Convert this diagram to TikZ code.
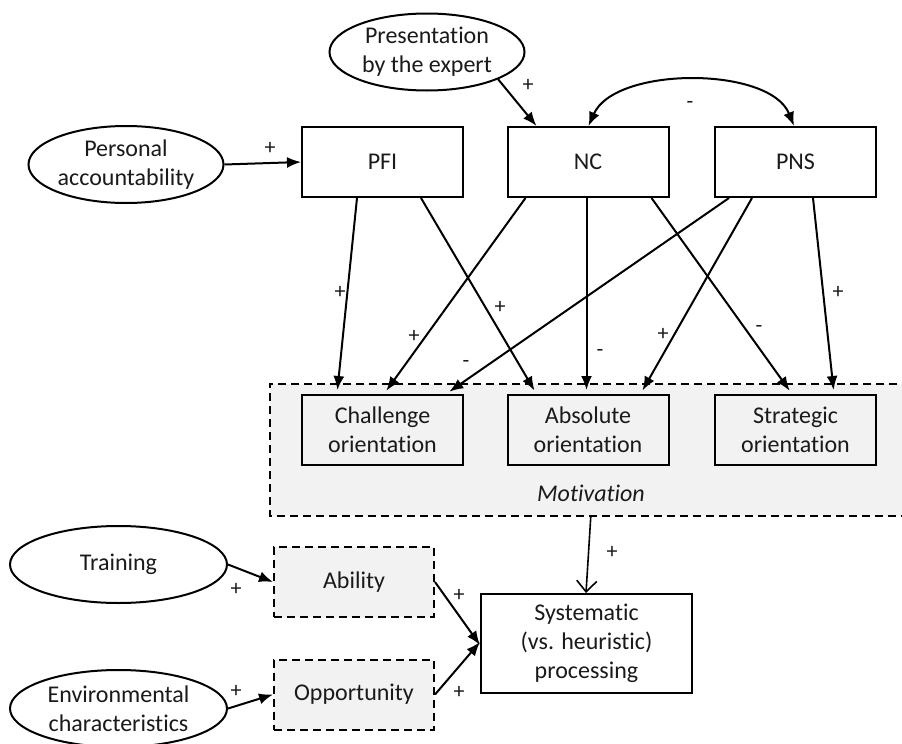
\documentclass[tikz,border=0pt]{standalone}
\usepackage{fontspec}
\setmainfont{Carlito}[Ligatures=NoCommon]
\usetikzlibrary{shapes.geometric,arrows.meta}
\definecolor{mgray}{HTML}{F2F2F2}
\definecolor{ink}{HTML}{1A1A1A}
\begin{document}
\begin{tikzpicture}[x=1pt,y=-1pt,
  every node/.style={font=\fontsize{24}{29}\selectfont, text=ink, align=center},
  box/.style={draw=black, line width=2pt, minimum width=161pt, minimum height=70pt, inner sep=0pt},
  lowbox/.style={box, fill=mgray},
  dbox/.style={draw=black, line width=2pt, dash pattern=on 8pt off 5pt, fill=mgray, minimum width=160pt, minimum height=70pt, inner sep=0pt},
  ell/.style={ellipse, draw=black, line width=2pt, minimum width=195pt, minimum height=77pt, inner sep=0pt},
  arr/.style={draw=black, line width=2pt, -{Latex[length=14pt,width=11pt]}},
  arrd/.style={arr, shorten >=4pt},
  openarr/.style={draw=black, line width=1.6pt, -{Straight Barb[length=11pt,width=20pt,line width=1.6pt]}},
  lab/.style={font=\fontsize{22}{24}\selectfont, inner sep=0pt}
]
\useasboundingbox (0,0) rectangle (902,744);
\fill[white] (0,0) rectangle (902,744);

% Motivation group
\node[fill=mgray, draw=none, minimum width=640pt, minimum height=132pt, inner sep=0pt] (mot) at (590,450) {};
\draw[line width=2pt, dash pattern=on 8pt off 5pt] (mot.north east) -- (mot.north west) -- (mot.south west) -- (mot.south east);
\node[font=\itshape\fontsize{24}{29}\selectfont] (motl) at (591,493) {Motivation};

% ellipses
\node[ell] (pres) at (427,52) {Presentation\\by the expert};
\node[ell] (pers) at (126,164.5) {Personal\\accountability};
\node[ell, minimum width=217pt] (train) at (118.5,564.5) {Training};
\node[ell, minimum width=217pt] (env) at (118.5,708.5) {Environmental\\characteristics};

% top boxes
\node[box] (pfi) at (382.5,162) {PFI};
\node[box] (nc) at (588,162) {NC};
\node[box] (pns) at (795.5,162) {PNS};

% orientation boxes
\node[lowbox] (ch) at (382.5,430) {Challenge\\orientation};
\node[lowbox] (ab) at (588,430) {Absolute\\orientation};
\node[lowbox] (st) at (795.5,430) {Strategic\\orientation};

% ability / opportunity
\node[dbox] (abil) at (354,582) {Ability};
\node[dbox] (opp) at (354,694.5) {Opportunity};

% systematic
\node[box, minimum width=211pt, minimum height=99pt] (sys) at (586.5,643.5) {Systematic\\(vs. heuristic)\\processing};

% arrows top
\draw[arr] (pers.east) -- (pfi.west);
\node[lab] (l1) at (270,148) {+};
\draw[arr] (pres.-21.5) -- ([xshift=30pt]nc.north west);
\node[lab] (l2) at (528,85) {+};
\draw[draw=black, line width=2pt, {Latex[length=14pt,width=11pt]}-{Latex[length=14pt,width=11pt]}]
  ([xshift=82pt]nc.north west) .. controls (615,66) and (770,66) .. ([xshift=80pt]pns.north west);
\node[lab] (l3) at (690,105) {-};

% cross arrows
\draw[arrd] ([xshift=56pt]pfi.south west) -- ([xshift=36pt]ch.north west);
\node[lab] (l4) at (340,292) {+};
\draw[arrd] ([xshift=120pt]pfi.south west) -- ([xshift=30pt]ab.north west);
\node[lab] (l5) at (500,307) {+};
\draw[arrd] ([xshift=19pt]nc.south west) -- ([xshift=83pt]ch.north west);
\node[lab] (l6) at (414,336) {+};
\draw[arrd] ([xshift=80pt]nc.south west) -- ([xshift=80pt]ab.north west);
\node[lab] (l7) at (600,353) {-};
\draw[arrd] ([xshift=145pt]nc.south west) -- ([xshift=78pt]st.north west);
\node[lab] (l8) at (759,329) {-};
\draw[arrd] ([xshift=15pt]pns.south west) -- ([xshift=145pt]ch.north west);
\node[lab] (l9) at (466,364) {-};
\draw[arrd] ([xshift=38pt]pns.south west) -- ([xshift=134pt]ab.north west);
\node[lab] (l10) at (663,334) {+};
\draw[arrd] ([xshift=99pt]pns.south west) -- ([xshift=120pt]st.north west);
\node[lab] (l11) at (838,292) {+};

% bottom arrows
\draw[openarr] ([xshift=321pt]mot.south west) -- ([xshift=106pt]sys.north west);
\node[lab] (l12) at (612,552) {+};
\draw[arr] (train.east) -- (abil.west);
\node[lab] (l13) at (236,589) {+};
\draw[arr] (env.east) -- (opp.west);
\node[lab] (l14) at (236,691) {+};
\draw[arr] (abil.east) -- ([yshift=-1.5pt]sys.west);
\node[lab] (l15) at (459,595) {+};
\draw[arr] (opp.east) -- ([yshift=1.5pt]sys.west);
\node[lab] (l16) at (459,692) {+};
\end{tikzpicture}
\end{document}
